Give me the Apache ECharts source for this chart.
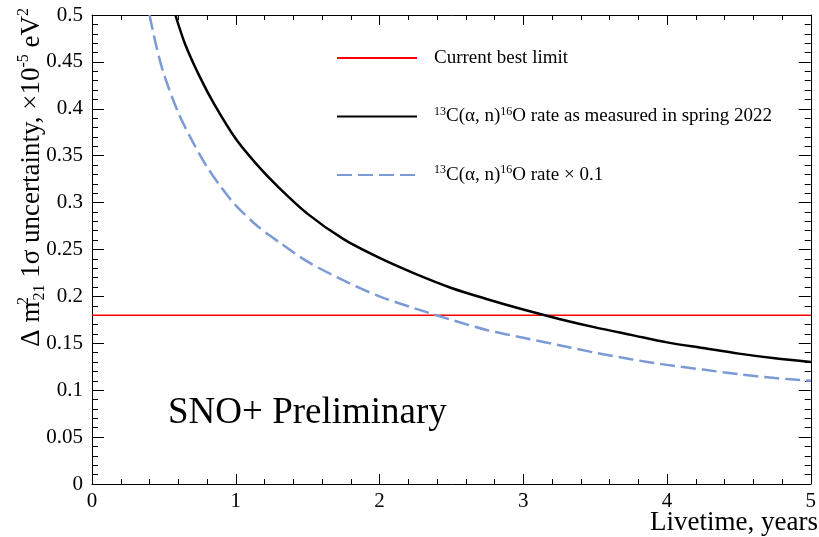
<!DOCTYPE html>
<html>
<head>
<meta charset="utf-8">
<script src="https://cdn.jsdelivr.net/npm/echarts@6/dist/echarts.min.js"></script>
<style>
html,body{margin:0;padding:0;background:#fff;}
#chart{width:819px;height:537px;}
</style>
</head>
<body>
<div id="chart"></div>
<script>
// ---- data ----
const measuredX = [0.58, 0.65, 0.75, 0.85, 1.0, 1.15, 1.3, 1.5, 1.75, 2.0, 2.25, 2.5, 2.75, 3.0, 3.25, 3.5, 3.75, 4.0, 4.25, 4.5, 4.75, 5.0];
const measuredY = [0.500, 0.468, 0.434, 0.405, 0.368, 0.340, 0.316, 0.288, 0.261, 0.241, 0.224, 0.209, 0.197, 0.186, 0.176, 0.167, 0.159, 0.151, 0.145, 0.139, 0.134, 0.130];
const reducedX = [0.40, 0.45, 0.5, 0.6, 0.7, 0.8, 0.9, 1.0, 1.15, 1.3, 1.5, 1.75, 2.0, 2.25, 2.5, 2.75, 3.0, 3.25, 3.5, 3.75, 4.0, 4.25, 4.5, 4.75, 5.0];
const reducedY = [0.500, 0.465, 0.437, 0.396, 0.365, 0.338, 0.316, 0.297, 0.275, 0.258, 0.237, 0.217, 0.200, 0.187, 0.175, 0.164, 0.156, 0.148, 0.140, 0.133, 0.127, 0.122, 0.117, 0.113, 0.110];
const limitX = [0, 5];
const limitY = [0.18, 0.18];
const seriesNames = ['Current best limit', 'measured', 'reduced'];
const xRange = [0, 5];
const yRange = [0, 0.5];

function zip(a, b) { return a.map((v, i) => [v, b[i]]); }

const FONT = 'Liberation Serif';
const chart = echarts.init(document.getElementById('chart'), null, {renderer: 'canvas'});

function makeAxis(min, max, interval, position, showLabel, major, minor, margin) {
  return {
    type: 'value', min: min, max: max, interval: interval, position: position,
    axisLine: {show: true, onZero: false, lineStyle: {color: '#000', width: 1}},
    splitLine: {show: false},
    axisTick: {show: true, inside: true, length: major, lineStyle: {color: '#000', width: 1}},
    minorTick: {show: true, splitNumber: 5, length: minor, lineStyle: {color: '#000', width: 1}},
    axisLabel: showLabel
      ? {show: true, color: '#000', fontFamily: FONT, fontSize: 21, margin: margin}
      : {show: false}
  };
}

const option = {
  animation: false,
  backgroundColor: '#fff',
  grid: {left: 92, right: 1, top: 15, bottom: 53},
  xAxis: [
    makeAxis(xRange[0], xRange[1], 1, 'bottom', true, 10, 5, 7),
    makeAxis(xRange[0], xRange[1], 1, 'top', false, 10, 5, 7)
  ],
  yAxis: [
    makeAxis(yRange[0], yRange[1], 0.05, 'left', true, 12, 6, 9),
    makeAxis(yRange[0], yRange[1], 0.05, 'right', false, 12, 6, 9)
  ],
  legend: {
    orient: 'vertical',
    left: 331, top: 42,
    itemWidth: 80, itemHeight: 14,
    itemGap: 36.5,
    data: seriesNames,
    itemStyle: {opacity: 0},
    textStyle: {
      fontFamily: FONT, fontSize: 19, color: '#000', lineHeight: 22, padding: [0, 0, 0, 12],
      rich: {
        n: {fontFamily: FONT, fontSize: 19, color: '#000', lineHeight: 22},
        s: {fontFamily: FONT, fontSize: 12, color: '#000', lineHeight: 22, verticalAlign: 'top'}
      }
    },
    formatter: function (name) {
      if (name === 'measured') return '{s|13}{n|C(α, n)}{s|16}{n|O rate as measured in spring 2022}';
      if (name === 'reduced') return '{s|13}{n|C(α, n)}{s|16}{n|O rate × 0.1}';
      return '{n|' + name + '}';
    }
  },
  series: [
    {
      name: seriesNames[0], type: 'line', data: zip(limitX, limitY),
      showSymbol: false, symbol: 'none',
      lineStyle: {color: '#ff0000', width: 1.5}, itemStyle: {color: '#ff0000'}
    },
    {
      name: seriesNames[1], type: 'line', data: zip(measuredX, measuredY),
      showSymbol: false, symbol: 'none', smooth: 0.3,
      lineStyle: {color: '#000000', width: 2.5}, itemStyle: {color: '#000000'}
    },
    {
      name: seriesNames[2], type: 'line', data: zip(reducedX, reducedY),
      showSymbol: false, symbol: 'none', smooth: 0.3,
      lineStyle: {color: '#7b9ad6', width: 2.5, type: [15, 6]}, itemStyle: {color: '#7b9ad6'}
    }
  ],
  graphic: [
    {
      type: 'text', x: 32, y: 8, rotation: Math.PI / 2,
      style: {
        text: '{n|Δ m}{sp|2}{sb|21}{n| 1σ uncertainty, ×10}{sup|-5}{n| eV}{sup|2}',
        align: 'right', verticalAlign: 'middle',
        fill: '#000',
        rich: {
          n: {fontFamily: FONT, fontSize: 27, fill: '#000', lineHeight: 32},
          sup: {fontFamily: FONT, fontSize: 16, fill: '#000', lineHeight: 32, verticalAlign: 'top'},
          sp: {fontFamily: FONT, fontSize: 16, fill: '#000', lineHeight: 32, verticalAlign: 'top', width: 1, align: 'left'},
          sb: {fontFamily: FONT, fontSize: 16, fill: '#000', lineHeight: 32, verticalAlign: 'bottom'}
        }
      }
    },
    {
      type: 'text', x: 818, y: 523,
      style: {text: 'Livetime, years', align: 'right', verticalAlign: 'middle', fontFamily: FONT, fontSize: 27, fill: '#000'}
    },
    {
      type: 'text', x: 168, y: 413,
      style: {text: 'SNO+ Preliminary', align: 'left', verticalAlign: 'middle', fontFamily: FONT, fontSize: 37, fill: '#000'}
    }
  ]
};
chart.setOption(option);

// make sure the tick labels are drawn in the serif face
const zr = chart.getZr();
zr.storage.getDisplayList(true).forEach(function (el) {
  const st = el.style;
  if (st && typeof st.text === 'string' && /^\d+(\.\d+)?$/.test(st.text) &&
      ((st.font && st.font.indexOf('21px') >= 0) || st.fontSize === 21)) {
    el.setStyle({font: 'normal normal 21px "Liberation Serif"', fontFamily: 'Liberation Serif'});
  }
});
zr.refreshImmediately();
</script>
</body>
</html>
